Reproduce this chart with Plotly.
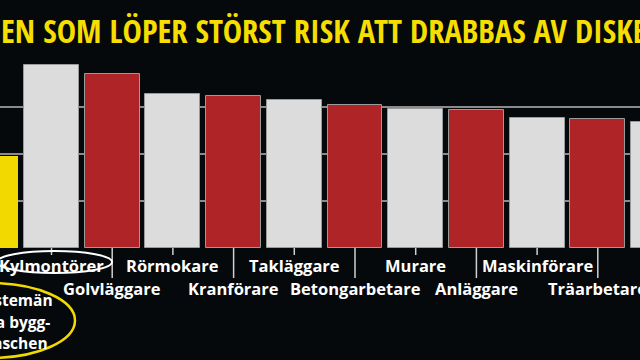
import plotly.graph_objects as go

# ---- data ----
categories = ["Tjänstemän i hela byggbranschen", "Kylmontörer", "Golvläggare", "Rörmokare",
              "Kranförare", "Takläggare", "Betongarbetare", "Murare", "Anläggare",
              "Maskinförare", "Träarbetare", "Plåtslagare"]
values = [1.96, 3.89, 3.71, 3.29, 3.23, 3.15, 3.04, 2.97, 2.94, 2.78, 2.75, 2.68]
bar_colors = ["#f2d900"] + ["#dcdcdc" if i % 2 == 0 else "#ae2427" for i in range(11)]
title_text = "EN SOM LÖPER STÖRST RISK ATT DRABBAS AV DISKBRÅCK"
ref_lines = ["Tjänstemän", "i hela bygg-", "branschen"]
y_ticks = [0, 1, 2, 3, 4]

W, H = 640, 360
TOP, BOT = 60, 248  # plot area pixel bounds
LABEL_FONT = dict(family="Open Sans", size=16.5, color="#ffffff", weight=700)


def py(p):
    """pixel y -> paper y"""
    return (BOT - p) / (BOT - TOP)


def px(p):
    return p / W


xs = list(range(len(categories)))
step = 60.7
x0 = 1 - 51.5 / step
x1 = x0 + W / step

fig = go.Figure()
fig.add_trace(go.Bar(
    x=xs, y=values,
    marker=dict(color=bar_colors, line=dict(color="#9a9a9a", width=[0] + [1] * 11)),
    width=0.905,
    hoverinfo="skip",
))

shapes = []
annotations = []

for i in range(1, len(categories)):
    upper = (i % 2 == 1)
    shapes.append(dict(type="line", xref="x", yref="paper", x0=i, x1=i,
                       y0=py(BOT), y1=py(255 if upper else 278),
                       line=dict(color="#d0d0d0", width=1.5)))
    annotations.append(dict(x=i, xref="x", y=py(265 if upper else 288), yref="paper",
                            text=categories[i], showarrow=False, xanchor="center",
                            yanchor="middle", font=LABEL_FONT))

# ellipse round Kylmontörer
shapes.append(dict(type="circle", xref="paper", yref="paper",
                   x0=px(-3), x1=px(112), y0=py(273), y1=py(251),
                   line=dict(color="#ffffff", width=2)))
# yellow ellipse round reference group
shapes.append(dict(type="circle", xref="paper", yref="paper",
                   x0=px(-95), x1=px(75), y0=py(358), y1=py(283),
                   line=dict(color="#f2d900", width=2.5)))

for line, yy, xr in zip(ref_lines, [300, 322, 343], [55, 52, 50]):
    annotations.append(dict(x=px(xr), xref="paper", y=py(yy), yref="paper", text=line,
                            showarrow=False, xanchor="right", yanchor="middle",
                            font=dict(LABEL_FONT, size=15.5)))

# title
annotations.append(dict(x=px(-1), xref="paper", y=py(31), yref="paper", text=title_text,
                        showarrow=False, xanchor="left", yanchor="middle",
                        font=dict(family="Open Sans Condensed, Roboto Condensed",
                                  size=32.5, color="#f5de00", weight=800)))

fig.update_layout(
    width=W, height=H,
    margin=dict(l=0, r=0, t=TOP, b=H - BOT),
    paper_bgcolor="#05090b", plot_bgcolor="#05090b",
    showlegend=False,
    bargap=0,
    xaxis=dict(range=[x0, x1], showticklabels=False, showgrid=False, zeroline=False,
               ticks="", fixedrange=True),
    yaxis=dict(range=[0, 4.005], tickvals=y_ticks, showticklabels=False, showgrid=True,
               gridcolor="#8a8a8a", gridwidth=2, zeroline=False, ticks="", fixedrange=True),
    shapes=shapes,
    annotations=annotations,
)

fig.write_html("out.html", config={"displayModeBar": False})
